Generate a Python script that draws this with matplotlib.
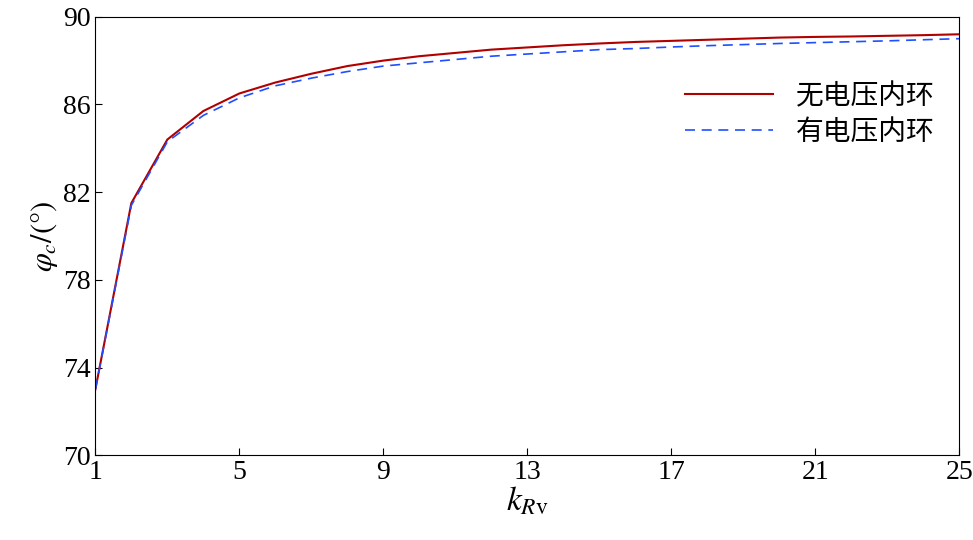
import matplotlib
matplotlib.use("Agg")
import matplotlib.pyplot as plt

plt.rcParams['font.family'] = ['Liberation Serif', 'Noto Sans CJK SC']
plt.rcParams['mathtext.fontset'] = 'stix'

k_rv = list(range(1, 26))
phi_no_loop = [73.0, 81.5, 84.4, 85.7, 86.5, 87.0, 87.4, 87.75, 88.0, 88.2, 88.35, 88.5, 88.6,
               88.7, 88.78, 88.85, 88.9, 88.95, 89.0, 89.05, 89.08, 89.1, 89.13, 89.16, 89.2]
phi_with_loop = [73.0, 81.4, 84.3, 85.5, 86.3, 86.85, 87.2, 87.5, 87.75, 87.9, 88.05, 88.2, 88.3,
                 88.4, 88.5, 88.55, 88.62, 88.68, 88.73, 88.78, 88.82, 88.86, 88.9, 88.95, 89.0]

fig = plt.figure(figsize=(9.73, 5.4), dpi=100)
ax = fig.add_axes([0.098, 0.157, 0.888, 0.812])
ax.plot(k_rv, phi_no_loop, color='#b00000', lw=1.5, label='无电压内环')
ax.plot(k_rv, phi_with_loop, color='#1f4fff', lw=1.2, ls=(0, (6, 4)), label='有电压内环')

ax.set_xlim(1, 25)
ax.set_ylim(70, 90)
ax.set_xticks([1, 5, 9, 13, 17, 21, 25])
ax.set_yticks([70, 74, 78, 82, 86, 90])
ax.tick_params(direction='in', labelsize=20, length=5)
ax.set_xlabel(r'$k_{R\mathrm{v}}$', fontsize=24, labelpad=0)
ax.set_ylabel(r'$\varphi_c/(°)$', fontsize=22, labelpad=2)
ax.legend(loc='upper right', bbox_to_anchor=(1.0, 0.91), frameon=False,
          handlelength=3.2, labelspacing=0.2, prop={'family': ['Noto Sans CJK SC'], 'size': 20})

fig.savefig('out.png', dpi=100)
